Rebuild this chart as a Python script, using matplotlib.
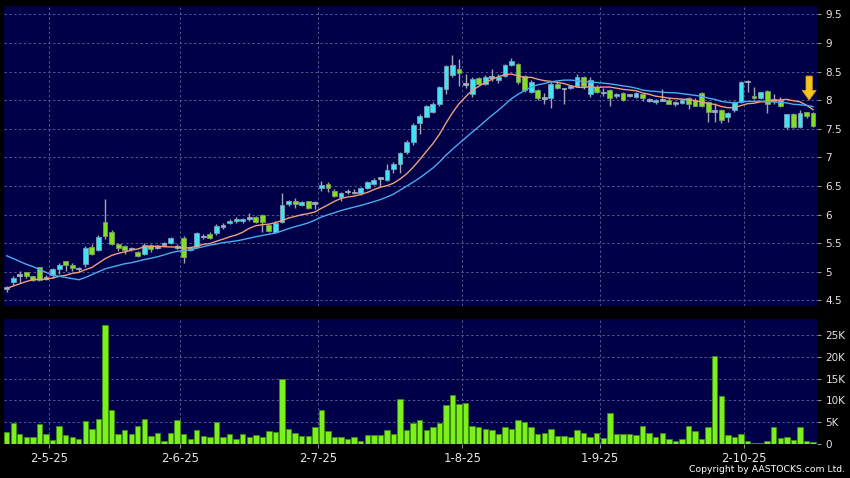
import numpy as np
import pandas as pd
import matplotlib
matplotlib.use("Agg")
import matplotlib.pyplot as plt
from matplotlib.ticker import FixedLocator, FuncFormatter

# daily OHLC, one entry per session
opens = [4.69, 4.82, 4.94, 4.99, 4.92, 5.08, 4.89, 4.94, 5.05, 5.18,
         5.12, 5.05, 5.14, 5.44, 5.38, 5.87, 5.70, 5.49, 5.45, 5.40,
         5.35, 5.31, 5.46, 5.43, 5.48, 5.50, 5.43, 5.59, 5.38, 5.43,
         5.61, 5.66, 5.67, 5.80, 5.85, 5.89, 5.88, 5.93, 5.95, 5.99,
         5.82, 5.69, 5.87, 6.18, 6.24, 6.17, 6.23, 6.20, 6.47, 6.54,
         6.42, 6.31, 6.40, 6.38, 6.37, 6.47, 6.54, 6.63, 6.60, 6.79,
         6.89, 7.10, 7.26, 7.60, 7.71, 7.80, 7.93, 8.20, 8.44, 8.55,
         8.28, 8.10, 8.39, 8.29, 8.40, 8.36, 8.42, 8.62, 8.63, 8.42,
         8.15, 8.17, 8.03, 8.03, 8.29, 8.20, 8.21, 8.25, 8.41, 8.11,
         8.23, 8.13, 8.18, 8.07, 8.13, 8.08, 8.06, 8.11, 8.01, 7.96,
         8.01, 8.01, 7.93, 7.95, 8.03, 8.01, 8.13, 7.96, 7.80, 7.82,
         7.70, 7.83, 7.96, 8.32, 8.08, 8.04, 8.16, 8.01, 8.00, 7.53,
         7.75, 7.53, 7.79, 7.78]
highs = [4.75, 4.92, 5.01, 5.00, 4.93, 5.09, 4.95, 5.06, 5.15, 5.18,
         5.15, 5.09, 5.45, 5.48, 5.65, 6.27, 5.73, 5.50, 5.46, 5.43,
         5.37, 5.50, 5.48, 5.47, 5.52, 5.61, 5.49, 5.62, 5.45, 5.70,
         5.66, 5.69, 5.83, 5.85, 5.92, 5.95, 5.94, 6.03, 5.97, 6.01,
         5.84, 5.89, 6.38, 6.25, 6.29, 6.24, 6.24, 6.24, 6.58, 6.57,
         6.44, 6.40, 6.45, 6.44, 6.48, 6.59, 6.63, 6.65, 6.88, 6.92,
         7.10, 7.30, 7.60, 7.75, 7.92, 7.97, 8.25, 8.62, 8.79, 8.72,
         8.45, 8.40, 8.41, 8.44, 8.55, 8.45, 8.63, 8.74, 8.65, 8.44,
         8.35, 8.20, 8.13, 8.32, 8.32, 8.22, 8.27, 8.45, 8.43, 8.41,
         8.26, 8.22, 8.20, 8.12, 8.14, 8.11, 8.14, 8.13, 8.04, 8.02,
         8.19, 8.03, 7.98, 8.02, 8.05, 8.03, 8.15, 7.98, 7.95, 7.85,
         7.80, 7.99, 8.33, 8.35, 8.23, 8.15, 8.17, 8.10, 8.05, 7.76,
         7.77, 7.83, 7.80, 7.79]
lows = [4.65, 4.76, 4.80, 4.89, 4.83, 4.83, 4.86, 4.89, 4.96, 5.01,
        5.01, 4.99, 5.08, 5.29, 5.36, 5.58, 5.46, 5.37, 5.31, 5.36,
        5.26, 5.29, 5.35, 5.40, 5.46, 5.48, 5.40, 5.16, 5.36, 5.41,
        5.58, 5.57, 5.65, 5.74, 5.83, 5.86, 5.85, 5.89, 5.86, 5.69,
        5.70, 5.67, 5.85, 6.15, 6.12, 6.15, 6.10, 6.09, 6.42, 6.40,
        6.31, 6.23, 6.36, 6.36, 6.35, 6.45, 6.52, 6.50, 6.58, 6.72,
        6.72, 7.05, 7.22, 7.40, 7.70, 7.78, 7.90, 8.10, 8.40, 8.25,
        8.22, 8.06, 8.26, 8.26, 8.33, 8.30, 8.40, 8.60, 8.28, 8.14,
        8.12, 8.00, 7.94, 7.86, 8.20, 7.94, 8.19, 8.23, 8.20, 8.06,
        8.12, 8.08, 7.90, 8.03, 7.98, 8.05, 8.04, 7.98, 7.97, 7.94,
        7.98, 7.93, 7.90, 7.93, 7.85, 7.89, 7.88, 7.61, 7.61, 7.60,
        7.61, 7.79, 7.95, 8.14, 8.02, 8.02, 7.78, 7.93, 7.88, 7.50,
        7.51, 7.52, 7.68, 7.53]
closes = [4.73, 4.89, 4.95, 4.92, 4.85, 4.86, 4.90, 5.05, 5.11, 5.12,
          5.07, 5.06, 5.42, 5.31, 5.61, 5.62, 5.48, 5.41, 5.38, 5.41,
          5.28, 5.46, 5.40, 5.44, 5.49, 5.59, 5.44, 5.26, 5.42, 5.68,
          5.62, 5.59, 5.80, 5.81, 5.89, 5.92, 5.92, 5.94, 5.87, 5.87,
          5.71, 5.86, 6.17, 6.23, 6.18, 6.22, 6.12, 6.21, 6.52, 6.46,
          6.33, 6.38, 6.41, 6.39, 6.47, 6.57, 6.61, 6.64, 6.78, 6.89,
          7.08, 7.26, 7.57, 7.72, 7.89, 7.94, 8.23, 8.60, 8.61, 8.47,
          8.29, 8.37, 8.29, 8.41, 8.41, 8.40, 8.61, 8.69, 8.31, 8.17,
          8.32, 8.04, 8.04, 8.29, 8.22, 8.21, 8.25, 8.41, 8.24, 8.35,
          8.14, 8.14, 8.04, 8.09, 8.01, 8.09, 8.13, 8.03, 8.00, 8.01,
          8.00, 7.94, 7.96, 8.00, 7.94, 7.90, 7.90, 7.79, 7.80, 7.66,
          7.78, 7.96, 8.31, 8.33, 8.03, 8.14, 7.93, 8.00, 7.90, 7.75,
          7.53, 7.78, 7.72, 7.55]
volume_k = [2.7, 4.8, 2.2, 1.7, 1.5, 4.6, 2.4, 0.9, 4.2, 2.1,
            1.7, 1.2, 5.2, 3.5, 5.8, 27.3, 7.7, 2.2, 3.3, 2.2,
            4.2, 5.8, 1.8, 2.5, 0.7, 2.6, 5.5, 2.4, 1.2, 3.3,
            1.9, 1.7, 5.1, 1.7, 2.2, 1.2, 2.3, 1.5, 2.0, 1.5,
            3.0, 2.8, 15.0, 3.5, 2.5, 1.9, 1.8, 3.8, 7.8, 2.9,
            1.5, 1.6, 1.2, 1.5, 0.7, 2.1, 2.1, 2.1, 3.1, 2.2,
            10.4, 3.2, 4.9, 5.5, 3.1, 4.0, 4.8, 8.9, 11.2, 9.2,
            9.5, 4.2, 3.8, 3.5, 3.1, 2.2, 4.0, 3.5, 5.6, 5.1,
            3.8, 2.2, 2.5, 3.5, 1.9, 1.9, 1.5, 3.3, 2.6, 1.7,
            2.5, 1.4, 7.0, 2.2, 2.3, 2.4, 2.0, 4.1, 2.5, 1.7,
            2.5, 1.2, 0.8, 1.2, 4.2, 2.9, 1.2, 4.0, 20.2, 11.0,
            2.0, 1.5, 2.4, 0.8, 0.3, 0.3, 0.6, 3.9, 1.3, 1.5,
            0.9, 3.9, 0.8, 0.5]

# moving averages at the left edge need sessions that are off-chart
ma10_head = [4.71, 4.75, 4.79, 4.83, 4.86, 4.87, 4.87, 4.89, 4.92]
ma20_head = [5.28, 5.23, 5.18, 5.13, 5.09, 5.04, 4.99, 4.94, 4.92, 4.90,
             4.88, 4.86, 4.90, 4.95, 5.00, 5.05, 5.08, 5.11, 5.14]

month_labels = ["2-5-25", "2-6-25", "2-7-25", "1-8-25", "1-9-25", "2-10-25"]
month_first_bar = [7, 27, 48, 70, 91, 113]   # index of first session in month

price_ticks = [4.5, 5, 5.5, 6, 6.5, 7, 7.5, 8, 8.5, 9, 9.5]
vol_ticks = [0, 5, 10, 15, 20, 25]

# palette
NAVY = "#000048"
GRID = "#56568a"
CYAN = "#3ce4f4"
LIME = "#80e020"
FLAT = "#9aaebe"
WICK = "#a4a4b0"
VOLBAR = "#7cf01c"
TXT = "#e4e4e4"

o, h, l, c = (np.array(a) for a in (opens, highs, lows, closes))
x = np.arange(len(c))
close_s = pd.Series(c)
ma10 = close_s.rolling(10).mean().to_numpy()
ma10[:len(ma10_head)] = ma10_head
ma20 = close_s.rolling(20).mean().to_numpy()
ma20[:len(ma20_head)] = ma20_head

plt.rcParams["font.family"] = "DejaVu Sans"
fig = plt.figure(figsize=(8.5, 4.78), dpi=100, facecolor="black")
W, H = 850.0, 478.0
ax = fig.add_axes([4 / W, 1 - 305.5 / H, 813 / W, 299.5 / H])
axv = fig.add_axes([4 / W, 1 - 444 / H, 813 / W, 124.7 / H], sharex=ax)

grid_x = [m - 0.5 for m in month_first_bar]
for a in (ax, axv):
    a.set_facecolor(NAVY)
    for s in a.spines.values():
        s.set_visible(False)
    a.yaxis.tick_right()
    a.tick_params(axis="y", colors="#909090", labelcolor=TXT, length=3,
                  width=0.8, pad=3, labelsize=7.5)
    for gx in grid_x:
        a.axvline(gx, color=GRID, lw=0.7, ls=(0, (2.5, 2.5)), zorder=0)

# --- price panel ---
for p in price_ticks:
    ax.axhline(p, color=GRID, lw=0.7, ls=(0, (2.5, 2.5)), zorder=0)
ax.vlines(x, l, h, color=WICK, lw=1.0, zorder=2)
body_lo = np.minimum(o, c)
body_h = np.maximum(np.abs(c - o), 0.03)
flat = np.abs(c - o) < 0.015
up = (c > o) & ~flat
down = (c < o) & ~flat
ax.bar(x[up], body_h[up], bottom=body_lo[up], width=0.74, color=CYAN,
       edgecolor="#7c9cb0", lw=0.6, zorder=3)
ax.bar(x[down], body_h[down], bottom=body_lo[down], width=0.74, color=LIME,
       edgecolor="#7a9a6a", lw=0.6, zorder=3)
ax.bar(x[flat], body_h[flat], bottom=body_lo[flat] - 0.01, width=0.74, color=FLAT,
       edgecolor=FLAT, lw=0.6, zorder=3)
ax.plot(x, ma10, color="#f0a078", lw=1.0, zorder=4)
ax.plot(x, ma20, color="#48acf0", lw=1.0, zorder=4)

# marker arrow over the latest session
ax.annotate("", xy=(x[-1] - 0.6, 8.0), xytext=(x[-1] - 0.6, 8.42),
            arrowprops=dict(arrowstyle="simple,head_width=1.0,head_length=0.7,tail_width=0.45",
                            fc="#f6c41c", ec="#d89c10", lw=0.6, mutation_scale=10,
                            shrinkA=0, shrinkB=0), zorder=6)

ax.set_ylim(4.41, 9.645)
ax.yaxis.set_major_locator(FixedLocator(price_ticks))
ax.yaxis.set_major_formatter(FuncFormatter(lambda v, _: f"{v:g}"))
ax.tick_params(axis="x", bottom=False, labelbottom=False)

# --- volume panel ---
for v in vol_ticks[1:]:
    axv.axhline(v, color=GRID, lw=0.7, ls=(0, (2.5, 2.5)), zorder=0)
axv.bar(x, volume_k, width=0.82, color=VOLBAR, edgecolor="#3c8c0c", lw=0.6, zorder=3)
axv.set_ylim(0, 28.6)
axv.yaxis.set_major_locator(FixedLocator(vol_ticks))
axv.yaxis.set_major_formatter(FuncFormatter(lambda v, _: "0" if v == 0 else f"{v:g}K"))
axv.set_xticks(grid_x)
axv.set_xticklabels(month_labels)
axv.tick_params(axis="x", colors="#909090", labelcolor=TXT, length=3, width=0.8,
                pad=3, labelsize=8.4)

ax.set_xlim(-0.41, len(c) - 0.4)

fig.text(845 / W, 1 - 470 / H, "Copyright by AASTOCKS.com Ltd.", color="white",
         fontsize=6.7, ha="right", va="center")

fig.savefig("out.png", dpi=100, facecolor="black")
